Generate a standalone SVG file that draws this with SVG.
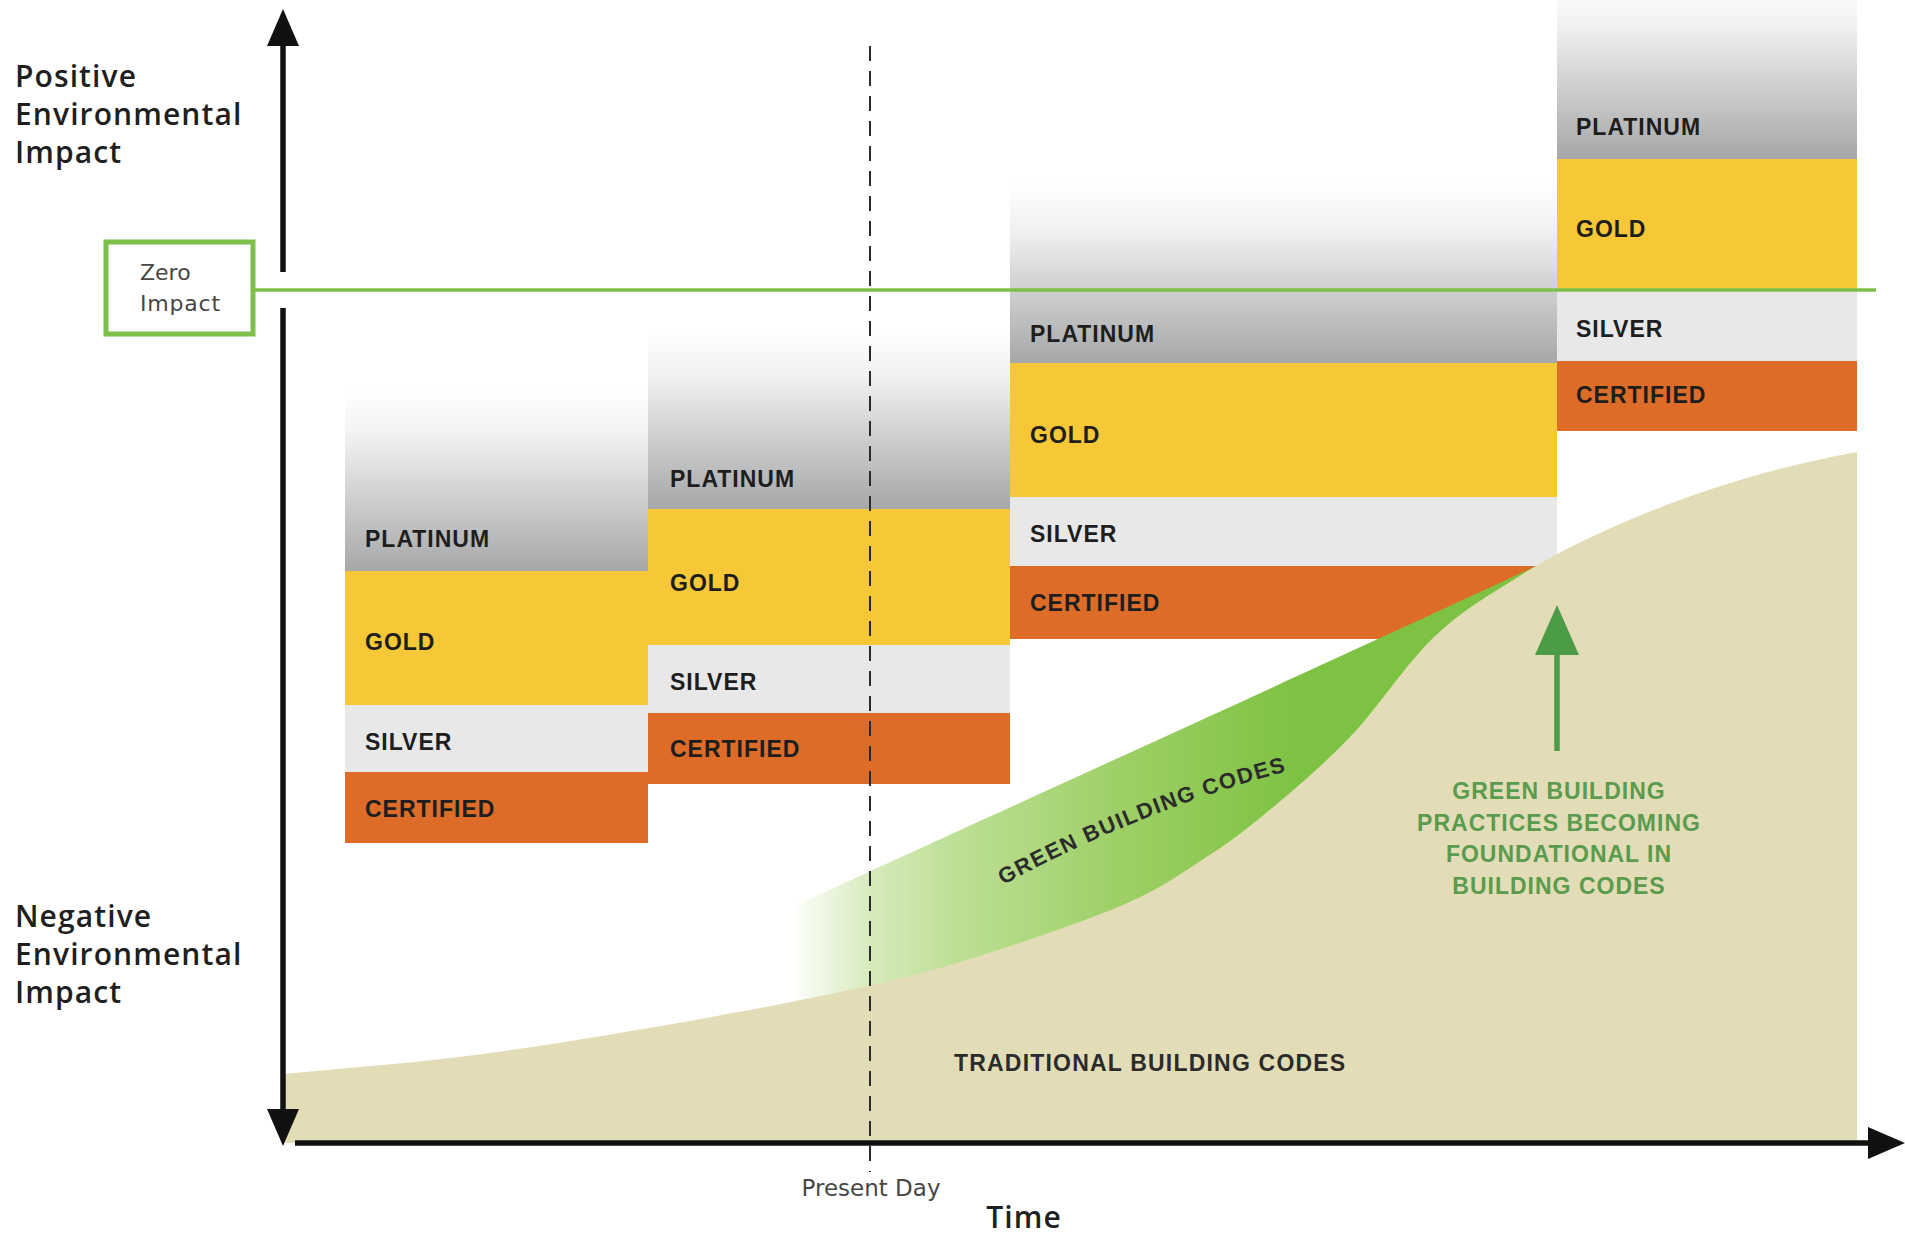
<svg xmlns="http://www.w3.org/2000/svg" width="1905" height="1237" viewBox="0 0 1905 1237">
  <style>
    .tier { font-family: "Liberation Sans", Arial, sans-serif; font-weight: bold; font-size: 23px; letter-spacing: 1px; fill: #1e1e1e; }
    .axislbl { font-family: "Open Sans", "Liberation Sans", sans-serif; font-weight: 600; font-size: 30px; letter-spacing: 1.1px; fill: #1f1f1f; }
    .small { font-family: "DejaVu Sans", "Liberation Sans", sans-serif; font-size: 22px; fill: #474747; }
    .greentxt { font-family: "Liberation Sans", Arial, sans-serif; font-weight: bold; font-size: 23px; letter-spacing: 1px; fill: #5a9b4e; }
    .dark { font-family: "Liberation Sans", Arial, sans-serif; font-weight: bold; font-size: 23px; letter-spacing: 1.2px; fill: #2b2b2b; }
    .plat { fill: url(#platGrad); }
    .gold { fill: #f6c838; }
    .silver { fill: #e8e8e9; }
    .cert { fill: #dc6c28; }
  </style>
  <defs>
    <linearGradient id="platGrad" x1="0" y1="0" x2="0" y2="1">
      <stop offset="0" stop-color="#ffffff"/>
      <stop offset="0.25" stop-color="#f2f2f2"/>
      <stop offset="1" stop-color="#a6a7a9"/>
    </linearGradient>
    <linearGradient id="bandGrad" gradientUnits="userSpaceOnUse" x1="790" y1="0" x2="1300" y2="0">
      <stop offset="0" stop-color="#8cc63f" stop-opacity="0"/>
      <stop offset="0.157" stop-color="#8cc63f" stop-opacity="0.35"/>
      <stop offset="0.314" stop-color="#8ac542" stop-opacity="0.55"/>
      <stop offset="0.64" stop-color="#86c441" stop-opacity="0.8"/>
      <stop offset="1" stop-color="#7dc242" stop-opacity="1"/>
    </linearGradient>
    <path id="bandTextPath" d="M1003,885 Q1145,808 1292,770"/>
    <marker id="arrowBlack" markerUnits="userSpaceOnUse" viewBox="0 0 37 32" markerWidth="37" markerHeight="32" refX="1" refY="16" orient="auto">
      <path d="M0,0 L37,16 L0,32 Z" fill="#111111"/>
    </marker>
    <marker id="arrowGreen" markerUnits="userSpaceOnUse" viewBox="0 0 50 44" markerWidth="50" markerHeight="44" refX="1" refY="22" orient="auto">
      <path d="M0,0 L50,22 L0,44 Z" fill="#4b9b47"/>
    </marker>
  </defs>

  <rect x="0" y="0" width="1905" height="1237" fill="#ffffff"/>

  <!-- Column 1 -->
  <g id="col1-platinum"><rect class="plat" x="345" y="389" width="303" height="182"/><text class="tier" x="365" y="547">PLATINUM</text></g>
  <g id="col1-gold"><rect class="gold" x="345" y="571" width="303" height="134"/><text class="tier" x="365" y="650">GOLD</text></g>
  <g id="col1-silver"><rect class="silver" x="345" y="705" width="303" height="67"/><text class="tier" x="365" y="750">SILVER</text></g>
  <g id="col1-certified"><rect class="cert" x="345" y="772" width="303" height="71"/><text class="tier" x="365" y="817">CERTIFIED</text></g>

  <!-- Column 2 -->
  <g id="col2-platinum"><rect class="plat" x="648" y="328" width="362" height="181"/><text class="tier" x="670" y="487">PLATINUM</text></g>
  <g id="col2-gold"><rect class="gold" x="648" y="509" width="362" height="136"/><text class="tier" x="670" y="591">GOLD</text></g>
  <g id="col2-silver"><rect class="silver" x="648" y="645" width="362" height="68"/><text class="tier" x="670" y="690">SILVER</text></g>
  <g id="col2-certified"><rect class="cert" x="648" y="713" width="362" height="71"/><text class="tier" x="670" y="757">CERTIFIED</text></g>

  <!-- Column 3 -->
  <g id="col3-platinum"><rect class="plat" x="1010" y="182" width="547" height="181"/><text class="tier" x="1030" y="342">PLATINUM</text></g>
  <g id="col3-gold"><rect class="gold" x="1010" y="363" width="547" height="134"/><text class="tier" x="1030" y="443">GOLD</text></g>
  <g id="col3-silver"><rect class="silver" x="1010" y="497" width="547" height="69"/><text class="tier" x="1030" y="542">SILVER</text></g>
  <g id="col3-certified"><rect class="cert" x="1010" y="566" width="547" height="73"/><text class="tier" x="1030" y="611">CERTIFIED</text></g>

  <!-- Column 4 -->
  <g id="col4-platinum"><rect class="plat" x="1557" y="-22" width="300" height="181"/><text class="tier" x="1576" y="135">PLATINUM</text></g>
  <g id="col4-gold"><rect class="gold" x="1557" y="159" width="300" height="131"/><text class="tier" x="1576" y="237">GOLD</text></g>
  <g id="col4-silver"><rect class="silver" x="1557" y="290" width="300" height="71"/><text class="tier" x="1576" y="337">SILVER</text></g>
  <g id="col4-certified"><rect class="cert" x="1557" y="361" width="300" height="70"/><text class="tier" x="1576" y="403">CERTIFIED</text></g>

  <!-- Green building codes band -->
  <g id="green-band">
    <path d="M795,906 C880,866 1300,676 1558,556 L1558,1000 L795,1100 Z" fill="url(#bandGrad)"/>
  </g>

  <!-- Traditional building codes area -->
  <g id="traditional-area">
    <path d="M283,1074 C341.7,1068.3 400,1064.3 459,1057 C518,1049.7 577.5,1040 637,1030 C696.5,1020 763.8,1007.8 816,997 C868.2,986.2 899.7,980 950,965 C1000.3,950 1076,924.5 1118,907 C1160,889.5 1177.3,875.7 1202,860 C1226.7,844.3 1241.3,833.5 1266,813 C1290.7,792.5 1322,766.3 1350,737 C1378,707.7 1406,663.7 1434,637 C1462,610.3 1490.3,594.3 1518,577 C1545.7,559.7 1564.2,549.5 1600,533 C1686,493.5 1771,467.5 1857,452 L1857,1143 L283,1143 Z" fill="#e3ddb7"/>
    <text class="dark" x="954" y="1071">TRADITIONAL BUILDING CODES</text>
  </g>

  <g id="green-band-label">
    <text class="dark" style="font-size:22px;letter-spacing:1.6px"><textPath href="#bandTextPath">GREEN BUILDING CODES</textPath></text>
  </g>

  <g id="green-note">
    <text class="greentxt" x="1559" y="799" text-anchor="middle">GREEN BUILDING</text>
    <text class="greentxt" x="1559" y="831" text-anchor="middle">PRACTICES BECOMING</text>
    <text class="greentxt" x="1559" y="862" text-anchor="middle">FOUNDATIONAL IN</text>
    <text class="greentxt" x="1559" y="894" text-anchor="middle">BUILDING CODES</text>
  </g>

  <!-- Axis labels -->
  <g id="positive-label">
    <text class="axislbl" x="15" y="87">Positive</text>
    <text class="axislbl" x="15" y="125">Environmental</text>
    <text class="axislbl" x="15" y="163">Impact</text>
  </g>
  <g id="negative-label">
    <text class="axislbl" x="15" y="927">Negative</text>
    <text class="axislbl" x="15" y="965">Environmental</text>
    <text class="axislbl" x="15" y="1003">Impact</text>
  </g>
  <g id="time-label">
    <text class="axislbl" x="1024" y="1228" text-anchor="middle">Time</text>
  </g>
  <g id="present-day-label">
    <text class="small" style="font-size:23px" x="871" y="1196" text-anchor="middle">Present Day</text>
  </g>

  <g id="zero-impact">
    <rect x="106" y="242" width="147" height="92" fill="#ffffff" stroke="#7cc04a" stroke-width="5"/>
    <text class="small" x="140" y="280">Zero</text>
    <text class="small" x="140" y="311" style="letter-spacing:0.8px">Impact</text>
  </g>

  <!-- Connectors / lines -->
  <g id="connectors">
    <line x1="870" y1="46" x2="870" y2="1172" stroke="#2a2a2a" stroke-width="2" stroke-dasharray="15 10"/>
    <line x1="255" y1="290" x2="1876" y2="290" stroke="#7cc04a" stroke-width="3.5"/>
    <line x1="283" y1="272" x2="283" y2="45" stroke="#111111" stroke-width="5.5" marker-end="url(#arrowBlack)"/>
    <line x1="283" y1="308" x2="283" y2="1110" stroke="#111111" stroke-width="5.5" marker-end="url(#arrowBlack)"/>
    <line x1="295" y1="1143" x2="1869" y2="1143" stroke="#111111" stroke-width="5.5" marker-end="url(#arrowBlack)"/>
    <line x1="1557" y1="751" x2="1557" y2="654" stroke="#4b9b47" stroke-width="5.5" marker-end="url(#arrowGreen)"/>
  </g>
</svg>
